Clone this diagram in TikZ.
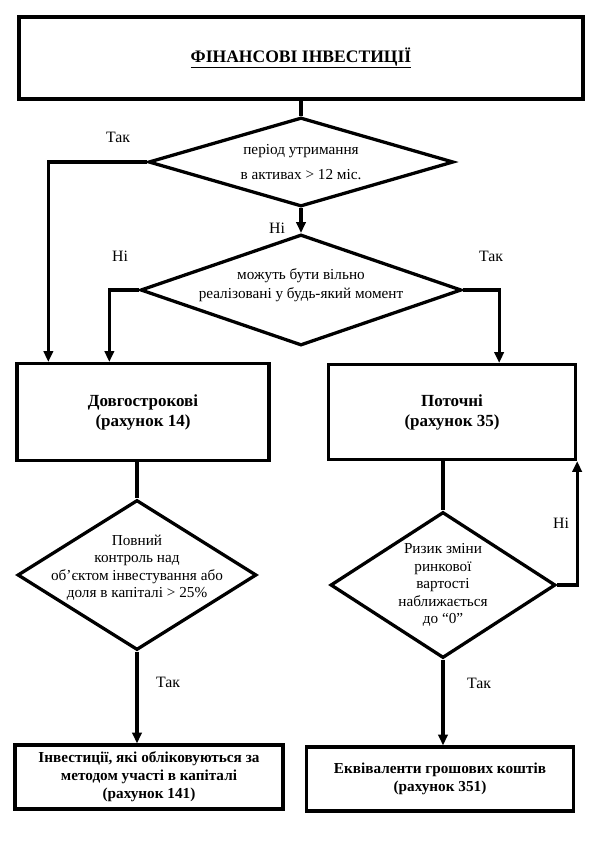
\documentclass[tikz,border=0pt]{standalone}
\usepackage{fontspec}
\setmainfont{Liberation Serif}
\usetikzlibrary{shapes.geometric,arrows.meta}

\begin{document}
\begin{tikzpicture}[x=0.3mm,y=-0.3mm,line width=2.8pt,
  >={Triangle[length=3.2mm,width=2.8mm]},
  box/.style={draw,rectangle,align=center,inner sep=0pt,font=\fontsize{13}{15.5}\selectfont\bfseries},
  choice/.style={draw,diamond,align=center,inner sep=-30mm,font=\fontsize{13}{15}\selectfont},
  lbl/.style={font=\fontsize{13.5}{15}\selectfont}]
\useasboundingbox (0,0) rectangle (596,846);

% Top box
\node[box,minimum width=169.2mm,minimum height=24.6mm,font=\fontsize{15}{17}\selectfont\bfseries] (fin) at (301,58) {\underline{ФІНАНСОВІ ІНВЕСТИЦІЇ}};

% Questions
\node[choice,minimum width=91.5mm,minimum height=26.7mm,font=\fontsize{13}{21}\selectfont] (term) at (301,162) {період утримання\\в активах > 12 міс.};
\node[choice,minimum width=96.3mm,minimum height=33.3mm,font=\fontsize{13}{17}\selectfont] (liquid) at (301,290) {можуть бути вільно\\реалізовані у будь-який момент\\[-6pt]\mbox{}};

% Groups
\node[box,minimum width=75.6mm,minimum height=29.1mm,font=\fontsize{14.5}{17}\selectfont\bfseries] (long) at (143,412) {Довгострокові\\(рахунок 14)};
\node[box,minimum width=74.1mm,minimum height=28.5mm,font=\fontsize{14.5}{17}\selectfont\bfseries] (curr) at (452,412) {Поточні\\(рахунок 35)};

\node[choice,minimum width=71.7mm,minimum height=45mm] (control) at (137,575) {Повний\\контроль над\\об’єктом інвестування або\\доля в капіталі > 25\%\\\mbox{}};
\node[choice,minimum width=67.5mm,minimum height=43.8mm] (risk) at (443,585) {Ризик зміни\\ринкової\\вартості\\наближається\\до “0”};

% Results
\node[box,minimum width=80.4mm,minimum height=19.2mm] (equity) at (149,777) {Інвестиції, які обліковуються за\\методом участі в капіталі\\(рахунок 141)};
\node[box,minimum width=80.1mm,minimum height=19.2mm] (cash) at (440,779) {Еквіваленти грошових коштів\\(рахунок 351)};

% Connectors
\draw (fin.south) -- (term.north);
\draw[->] (term.west) -| ([xshift=9.9mm]long.north west);
\draw[->] (term.south) -- (liquid.north);
\draw[->] (liquid.west) -| ([xshift=28.2mm]long.north west);
\draw[->] (liquid.east) -| ([xshift=-23.4mm]curr.north east);
\draw (long.south -| control.north) -- (control.north);
\draw (curr.south -| risk.north) -- (risk.north);
\draw[->] (control.south) -- (control.south |- equity.north);
\draw[->] (risk.south) -- (risk.south |- cash.north);
\draw[->] (risk.east) -| (curr.south east);

% Answers
\node[lbl] (yes1) at (118,137) {Так};
\node[lbl] (no1) at (277,228) {Ні};
\node[lbl] (no2) at (120,256) {Ні};
\node[lbl] (yes2) at (491,256) {Так};
\node[lbl] (yes3) at (168,682) {Так};
\node[lbl] (no3) at (561,523) {Ні};
\node[lbl] (yes4) at (479,683) {Так};
\end{tikzpicture}
\end{document}
